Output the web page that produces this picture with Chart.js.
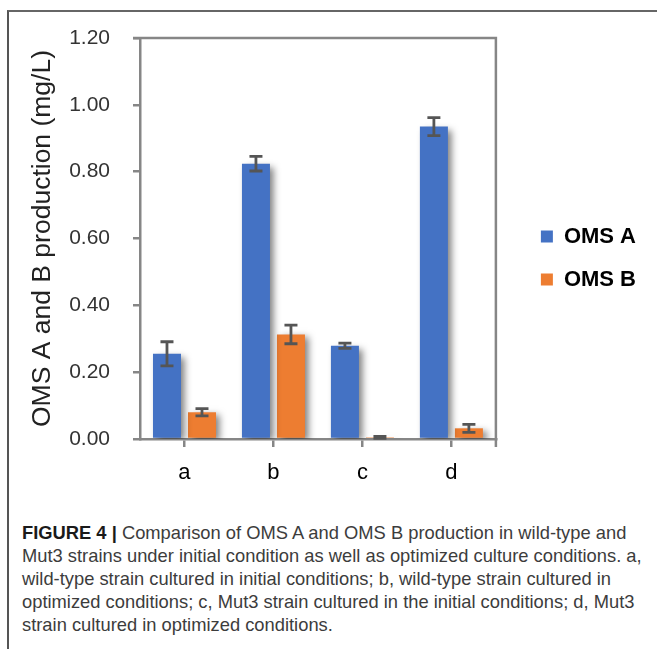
<!DOCTYPE html>
<html>
<head>
<meta charset="utf-8">
<script src="https://cdn.jsdelivr.net/npm/chart.js@4.4.0/dist/chart.umd.min.js"></script>
<style>
  body { margin: 0; background: #fff; }
  #frame { position: absolute; left: 7px; top: 10px; right: 0; bottom: 0; border-top: 2px solid #666; border-left: 2px solid #555; }
  #chart { position: absolute; left: 0; top: 0; }
  #caption { position: absolute; left: 22px; top: 521px; font-family: "Liberation Sans", Arial, sans-serif; font-size: 19px; line-height: 23px; color: #3c3c3c; white-space: nowrap; transform: scaleX(0.965); transform-origin: left top; }
  #caption b { color: #1a1a1a; }
</style>
</head>
<body>
<div id="frame"></div>
<canvas id="chart" width="657" height="500"></canvas>
<div id="caption">
  <b>FIGURE 4 |</b> Comparison of OMS A and OMS B production in wild-type and<br>
  Mut3 strains under initial condition as well as optimized culture conditions. a,<br>
  wild-type strain cultured in initial conditions; b, wild-type strain cultured in<br>
  optimized conditions; c, Mut3 strain cultured in the initial conditions; d, Mut3<br>
  strain cultured in optimized conditions.
</div>
<script>
// data
var categories = ['a', 'b', 'c', 'd'];
var seriesNames = ['OMS A', 'OMS B'];
var omsA = [0.255, 0.824, 0.279, 0.935];
var omsB = [0.080, 0.313, 0.005, 0.032];
var errA = [0.036, 0.022, 0.008, 0.027];
var errB = [0.011, 0.028, 0.003, 0.012];
var yTickLabels = ['0.00', '0.20', '0.40', '0.60', '0.80', '1.00', '1.20'];

var axisGray = '#868686';

// soft drop shadow under the bars, then error bars on top
var barExtras = {
  id: 'barExtras',
  beforeDatasetsDraw: function(chart) {
    var ctx = chart.ctx;
    ctx.save();
    ctx.shadowColor = 'rgba(0,0,0,0.5)';
    ctx.shadowBlur = 7;
    ctx.shadowOffsetX = 4;
    ctx.shadowOffsetY = 3;
  },
  afterDatasetsDraw: function(chart) {
    var ctx = chart.ctx;
    ctx.restore();
    var y = chart.scales.y;
    ctx.save();
    ctx.strokeStyle = '#555';
    ctx.lineWidth = 2.8;
    chart.data.datasets.forEach(function(ds, i) {
      chart.getDatasetMeta(i).data.forEach(function(bar, j) {
        var hi = y.getPixelForValue(ds.data[j] + ds.errors[j]);
        var lo = y.getPixelForValue(Math.max(ds.data[j] - ds.errors[j], 0));
        var x = bar.x, cap = 6.5;
        ctx.beginPath();
        ctx.moveTo(x, hi); ctx.lineTo(x, lo);
        ctx.moveTo(x - cap, hi); ctx.lineTo(x + cap, hi);
        ctx.moveTo(x - cap, lo); ctx.lineTo(x + cap, lo);
        ctx.stroke();
      });
    });
    ctx.restore();
  }
};

// top and right edges of the plot box
var plotBox = {
  id: 'plotBox',
  afterDraw: function(chart) {
    var a = chart.chartArea, ctx = chart.ctx;
    ctx.save();
    ctx.strokeStyle = axisGray;
    ctx.lineWidth = 2.5;
    ctx.beginPath();
    ctx.moveTo(a.left - 7, a.top); ctx.lineTo(a.right, a.top);
    ctx.lineTo(a.right, a.bottom + 8);
    ctx.stroke();
    ctx.restore();
  }
};

// move the legend a bit away from the plot, like the original
var legendNudge = {
  id: 'legendNudge',
  afterLayout: function(chart) {
    var lg = chart.legend;
    lg.left += 24; lg.right += 24;
    lg.top -= 11; lg.bottom -= 11;
  }
};

new Chart(document.getElementById('chart'), {
  type: 'bar',
  data: {
    labels: categories,
    datasets: [
      { label: seriesNames[0], data: omsA, errors: errA, backgroundColor: '#4472C4' },
      { label: seriesNames[1], data: omsB, errors: errB, backgroundColor: '#ED7D31' }
    ]
  },
  options: {
    responsive: false,
    animation: false,
    layout: { padding: { top: 38, left: 0, right: 35, bottom: 0 } },
    datasets: { bar: { categoryPercentage: 0.787, barPercentage: 0.8 } },
    plugins: {
      tooltip: { enabled: false },
      legend: {
        position: 'right',
        labels: {
          boxWidth: 12, boxHeight: 12, padding: 21, color: '#000',
          font: { family: 'Liberation Sans', size: 22, weight: 'bold' }
        }
      }
    },
    scales: {
      x: {
        grid: { display: true, drawOnChartArea: false, offset: false, color: axisGray, lineWidth: 2.5, tickLength: 8 },
        border: { display: true, color: axisGray, width: 2.5 },
        ticks: { color: '#000', padding: 13, font: { family: 'Liberation Sans', size: 22 } },
        afterFit: function(s) { s.height = 61; }
      },
      y: {
        min: 0, max: 1.2,
        grid: { display: true, drawOnChartArea: false, color: axisGray, lineWidth: 2.5, tickLength: 7 },
        border: { display: true, color: axisGray, width: 2.5 },
        ticks: {
          stepSize: 0.2, padding: 23, color: '#333',
          font: { family: 'Liberation Sans', size: 21 },
          callback: function(v, i) { return yTickLabels[i]; }
        },
        title: {
          display: true, text: 'OMS A and B production (mg/L)', color: '#222',
          font: { family: 'Liberation Sans', size: 26.5 }, padding: { top: 27, bottom: 0 }
        },
        afterFit: function(s) { s.width = 140; }
      }
    }
  },
  plugins: [barExtras, plotBox, legendNudge]
});
</script>
</body>
</html>
